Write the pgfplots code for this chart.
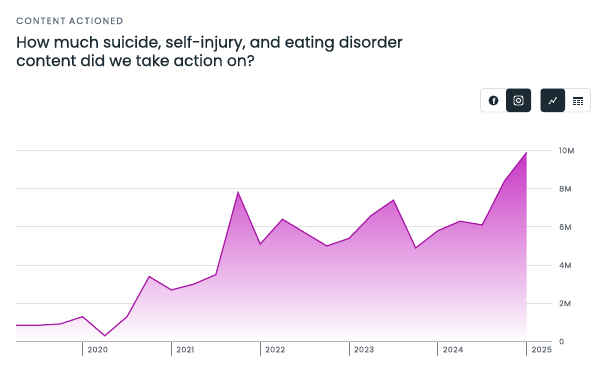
\documentclass[border=0pt]{standalone}
\usepackage{fontspec}
\setmainfont{Poppins}
\newfontfamily\eyebrow[LetterSpace=13,FakeBold=0.5]{Poppins}
\newfontfamily\titlef[FakeBold=0.45]{Poppins}
\newfontfamily\tickf[LetterSpace=6,FakeBold=0.15]{Poppins}
\usepackage{pgfplots}
\pgfplotsset{compat=1.18}
\definecolor{dark}{HTML}{1C2B33}
\definecolor{eyeb}{HTML}{5F6B7A}
\definecolor{gridc}{HTML}{E0E0E0}
\definecolor{axisc}{HTML}{B4B4B4}
\definecolor{tickc}{HTML}{7F7F7F}
\definecolor{labc}{HTML}{606770}
\definecolor{linec}{HTML}{A81CA8}
\definecolor{topc}{HTML}{C326C0}
\definecolor{btnb}{HTML}{DDDFE2}
\begin{document}
\begin{tikzpicture}[x=1pt,y=1pt]
\path[use as bounding box] (0,0) rectangle (600,376);
\begin{axis}[
  at={(16pt,34.5pt)}, anchor=origin,
  scale only axis, width=536pt, height=191pt,
  xmin=0, xmax=24.14, ymin=0, ymax=10,
  axis x line*=bottom, axis y line*=right,
  axis line style={draw=none},
  xtick={3,7,11,15,19,23},
  xticklabels={2020,2021,2022,2023,2024,2025},
  ytick={0,2,4,6,8,10},
  yticklabels={0,2M,4M,6M,8M,10M},
  ymajorgrids, grid style={gridc,line width=0.9pt},
  major tick length=14.5pt,
  xtick style={tickc,line width=0.8pt},
  ytick style={draw=none},
  tick align=outside,
  xticklabel style={anchor=west,font=\tickf\fontsize{7.8}{9}\selectfont,text=labc,xshift=3.8pt,yshift=6.5pt,inner sep=1pt},
  yticklabel style={anchor=west,font=\tickf\fontsize{7.8}{9}\selectfont,text=labc,inner sep=1pt,xshift=-8.5pt},
  clip=false,
]
\addplot[draw=none, top color=topc, bottom color=white, fill opacity=0.92] coordinates {
(0,0.85)(1,0.85)(2,0.92)(3,1.3)(4,0.3)(5,1.3)(6,3.4)(7,2.7)(8,3.0)(9,3.5)(10,7.8)(11,5.1)
(12,6.4)(13,5.7)(14,5.0)(15,5.4)(16,6.6)(17,7.4)(18,4.9)(19,5.8)(20,6.3)(21,6.1)(22,8.4)(23,9.9)
} \closedcycle;
\addplot[linec, line width=1.25pt, line join=miter] coordinates {
(0,0.85)(1,0.85)(2,0.92)(3,1.3)(4,0.3)(5,1.3)(6,3.4)(7,2.7)(8,3.0)(9,3.5)(10,7.8)(11,5.1)
(12,6.4)(13,5.7)(14,5.0)(15,5.4)(16,6.6)(17,7.4)(18,4.9)(19,5.8)(20,6.3)(21,6.1)(22,8.4)(23,9.9)
};
\addplot[axisc, line width=1.3pt, forget plot] coordinates {(0,0)(24.14,0)};
\end{axis}
\begin{scope}[shift={(0,376)},y=-1pt]
\node[anchor=base west,inner sep=0,text=eyeb,font=\eyebrow\fontsize{9.2}{10}\selectfont] at (16,24) {CONTENT ACTIONED};
\node[anchor=base west,inner sep=0,text=dark,font=\titlef\fontsize{15.5}{19}\selectfont] at (16,47.5) {How much suicide, self-injury, and eating disorder};
\node[anchor=base west,inner sep=0,text=dark,font=\titlef\fontsize{15.5}{19}\selectfont] at (16,66) {content did we take action on?};
% buttons
\draw[btnb,line width=0.7pt,rounded corners=3pt,fill=white] (480.5,88.5) rectangle (530.5,112);
\fill[dark,rounded corners=3pt] (506,88.5) rectangle (531,112);
\draw[btnb,line width=0.7pt,rounded corners=3pt,fill=white] (540.5,88.5) rectangle (590.5,112);
\fill[dark,rounded corners=3pt] (540.5,88.5) rectangle (565,112);
% facebook
\fill[dark] (493.5,100.5) circle (5);
\node[text=white,inner sep=0,font=\bfseries\fontsize{8}{8}\selectfont] at (494,101.5) {f};
% instagram
\draw[white,line width=0.9pt,rounded corners=2pt] (514,96) rectangle (523,105);
\draw[white,line width=0.9pt] (518.5,100.5) circle (2.1);
\fill[white] (521.2,97.8) circle (0.5);
% chart icon
\draw[white,line width=0.6pt] (549.5,103.5)--(551.5,100.5)--(553.5,102)--(556,98);
\foreach \p in {(549.5,103.5),(551.5,100.5),(553.5,102),(556,98)} \fill[white] \p circle (0.9);
% table icon
\fill[dark] (573,97) rectangle (583,104.5);
\foreach \yy in {99.3,101,102.7} \draw[white,line width=0.4pt] (573,\yy)--(583,\yy);
\foreach \xx in {576.3,579.7} \draw[white,line width=0.4pt] (\xx,99)--(\xx,104.5);
\end{scope}
\end{tikzpicture}
\end{document}
